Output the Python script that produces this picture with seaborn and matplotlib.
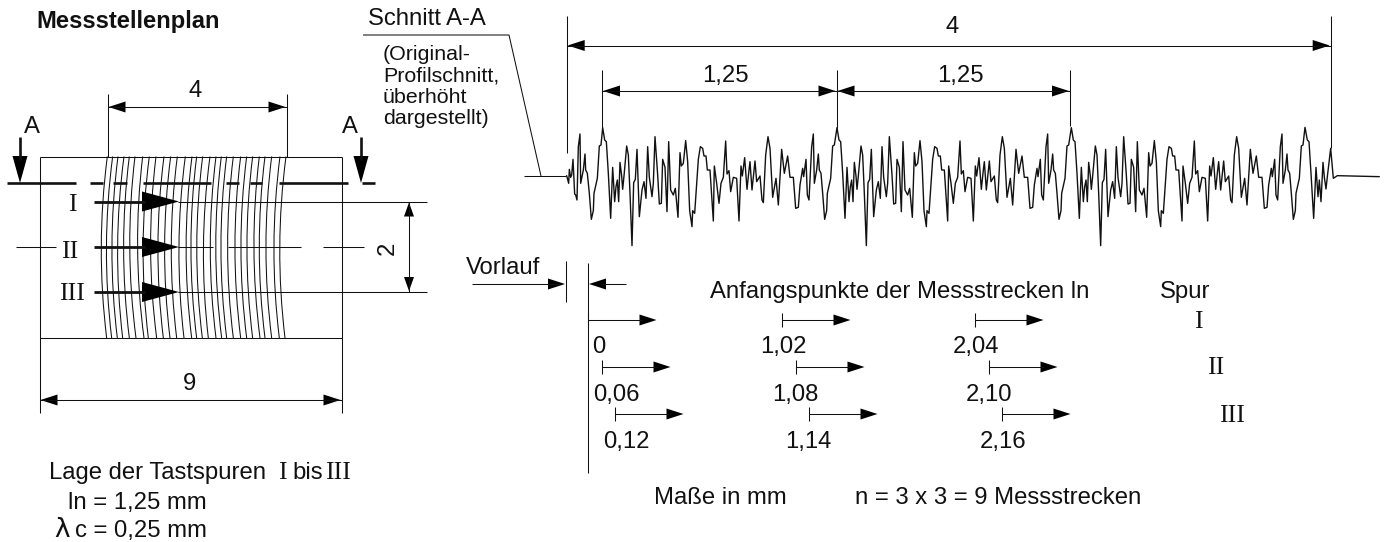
import numpy as np
import pandas as pd
import matplotlib
matplotlib.use("Agg")
import matplotlib.pyplot as plt
from matplotlib.path import Path
from matplotlib.patches import PathPatch
import seaborn as sns

sns.set_theme(style="white")
plt.rcParams['font.family'] = ['Liberation Sans', 'DejaVu Sans']

# ---- traced profile (trace units: 3 per pixel) ----
lead_x = [140,146,148,152,155,159,164,167,171,175,180,182,190,195,197,202,208,214,220,222,232,238,243]
lead_z = [257,280,238,262,255,208,312,315,330,170,132,280,240,192,240,250,310,388,362,310,265,168,165]
period_x = [248,254,259,265,272,278,284,288,292,296,300,305,308,312,320,325,330,336,341,346,351,358,366,372,378,383,388,396,400,405,413,418,424,428,435,441,446,452,460,466,474,480,484,490,497,503,509,516,518,524,535,541,548,552,558,562,570,580,583,590,597,603,610,617,621,627,632,640,650,657,663,667,674,681,687,690,696,705,710,720,726,730,737,744,750,758,768,775,785,793,803,810,820,827,835,840,848,851,858,862,867,875,880,883,890,895,898,903,908,914,920,922,932,938,943]
period_z = [113,150,155,250,385,232,335,290,270,335,217,258,298,258,168,195,310,467,278,268,178,380,300,275,325,170,262,320,280,140,255,342,340,208,232,365,155,300,315,295,382,188,228,220,152,215,362,410,362,370,208,170,175,198,198,240,240,393,228,280,340,280,262,153,252,242,305,262,265,393,228,258,203,298,240,215,300,213,275,258,330,338,195,140,175,322,265,345,178,250,198,262,262,355,352,285,235,260,208,315,330,170,132,280,240,192,240,250,310,388,362,310,265,168,165]
tail_x = [2355,2362,2367,2373,2381,2388,2394,2398,2403,2409,2413,2418,2422,2432,2440,2452,2578]
tail_z = [112,150,155,250,385,232,320,270,335,217,262,297,260,175,265,257,260]
period_step = 703

# ---- drawing values ----
groove_top = [322,338,354,372,388,405,428,448,468,492,512,532,556,576,590,608,630,648,664,680,700,722,740,758,778,795,815,840,858]
groove_bot = [320,335,352,368,388,408,432,445,470,490,510,530,552,575,590,607,625,648,665,680,700,722,740,758,780,795,815,838,855]
section_dashes = [(7,76),(90,103),(113,127),(143,211),(226,239),(250,262),(279,348),(362,375)]
track_names = ["I", "II", "III"]
track_y = [201.5, 247, 292]
track_label_x = [72, 70, 72]
track_label_y = [211, 258, 300]
start_rows = [320, 367, 414]
start_x = [[588,782,975],[602,796,989],[615,809,1002]]
start_labels = [["0","1,02","2,04"],["0,06","1,08","2,10"],["0,12","1,14","2,16"]]
start_label_x = [[592,760,953],[593,772,966],[603,785,980]]
start_label_y = [353, 401.5, 448]
spur_x = [1198, 1216, 1232]
spur_y = [328, 374, 422]

FS = 17.2
RS = 18.5
LW = 0.75

fig = plt.figure(figsize=(13.85, 5.42), dpi=100)
ax = fig.add_axes([0, 0, 1, 1])
ax.set_xlim(0, 1385)
ax.set_ylim(542, 0)
ax.axis("off")

def line(xs, ys, lw=LW, color="#111111"):
    ax.plot(xs, ys, color=color, lw=lw, solid_capstyle="butt")

def head(x, y, dx, dy=0, length=17, width=12):
    """triangle with its tip at (x, y), pointing along (dx, dy)"""
    bx, by = x - dx*length, y - dy*length
    px, py = -dy*width/2, dx*width/2
    ax.fill([x, bx+px, bx-px], [y, by+py, by-py], color="black", lw=0)

def dim_h(x0, x1, y):
    line([x0, x1], [y, y])
    head(x0+1, y, -1, 0, 17, 11)
    head(x1-1, y, 1, 0, 17, 11)

def txt(x, y, s, size=FS, ha="left", **kw):
    ax.text(x, y, s, fontsize=size, ha=ha, va="baseline", color="#111111", **kw)

def serif(x, y, s, size=RS, ha="left"):
    txt(x, y, s, size=size, ha=ha, family=["Liberation Serif"])

# ---- left: measuring plan ----
txt(36, 28, "Messstellenplan", size=17.1, fontweight="bold")
line([39.5, 341.5], [156.5, 156.5])
line([39.5, 341.5], [338, 338])
line([39.5, 39.5], [156.5, 413])
line([341.5, 341.5], [156.5, 413])
dim_h(39.5, 341.5, 400)
txt(189, 390, "9", ha="center")
line([107.5, 107.5], [94, 157])
line([286.5, 286.5], [94, 157])
dim_h(107.5, 286.5, 107)
txt(195, 97, "4", ha="center")

for t, b in zip(groove_top, groove_bot):
    x0, x1 = t/3, b/3
    xm = (x0+x1)/2 - 11.5
    ax.add_patch(PathPatch(Path([(x0,156.5),(xm,247),(x1,338)], [Path.MOVETO,Path.CURVE3,Path.CURVE3]),
                           fill=False, ec="#111111", lw=0.75))

for a, b in section_dashes:
    line([a, b], [183, 183], lw=1.9)
for x, y_lbl, lx in [(20, 133, 32), (361, 133, 350)]:
    line([x, x], [137, 160], lw=1.9)
    head(x, 183, 0, 1, 27, 15)
    txt(lx, y_lbl, "A", ha="center")

for name, y, lx, ly in zip(track_names, track_y, track_label_x, track_label_y):
    line([93.5, 145], [y, y], lw=2.0)
    head(179, y, 1, 0, 37, 20)
    serif(lx, ly, name, ha="center")
line([178, 427], [track_y[0]]*2)
line([178, 427], [track_y[2]]*2)
for a, b in [(16, 56), (178, 213), (228, 301), (323, 364)]:
    line([a, b], [track_y[1]]*2)
line([409, 409], [track_y[0], track_y[2]])
head(409, track_y[0]+1, 0, -1, 14, 10)
head(409, track_y[2]-1, 0, 1, 14, 10)
ax.text(388, 248, "2", fontsize=FS, rotation=90, ha="center", va="center", color="#111111")

txt(49, 479, "Lage der Tastspuren")
serif(278, 479, "I")
txt(292, 479, "bis")
serif(325, 479, "III")
txt(68, 509, "ln = 1,25 mm")
txt(54, 537, "λ", size=19, family=["DejaVu Sans"])
txt(75, 537, "c = 0,25 mm")

# ---- right: profile section ----
txt(368, 25, "Schnitt A-A")
line([363, 509, 541], [35, 35, 176])
line([524, 566], [176, 176])
for s, y in zip(["(Original-", "Profilschnitt,", "überhöht", "dargestellt)"], [60, 81, 103, 124]):
    txt(383, y, s, size=15.4)

xs = list(lead_x)
zs = list(lead_z)
for k in range(3):
    xs += [v + k*period_step for v in period_x]
    zs += list(period_z)
xs += tail_x
zs += tail_z
profile = pd.DataFrame({"x": 520 + np.array(xs)/3, "z": 90 + np.array(zs)/3})
sns.lineplot(data=profile, x="x", y="z", sort=False, estimator=None, color="#111111", lw=1.0, ax=ax, legend=False)
ax.set_xlim(0, 1385)
ax.set_ylim(542, 0)

line([566.7, 566.7], [16, 153])
line([1330.7, 1330.7], [16, 148])
dim_h(566.7, 1330.7, 45.5)
txt(952, 33, "4", ha="center")
for x, y1 in [(602, 128), (836.5, 128), (1070, 126)]:
    line([x, x], [70, y1])
dim_h(602, 836.5, 91)
dim_h(836.5, 1070, 91)
txt(725, 82, "1,25", ha="center")
txt(960, 82, "1,25", ha="center")

# ---- starting points ----
txt(466, 274, "Vorlauf")
line([472, 560], [284, 284])
head(565, 284, 1, 0, 17, 11)
line([566, 566], [261, 302])
line([588, 588], [263, 473])
line([600, 626], [284, 284])
head(589, 284, -1, 0, 17, 11)
txt(710, 298, "Anfangspunkte der Messstrecken ln")
txt(1160, 298, "Spur")
for row_y, row_x, row_lbl, row_lx, ly in zip(start_rows, start_x, start_labels, start_label_x, start_label_y):
    for x, lbl, lx in zip(row_x, row_lbl, row_lx):
        line([x, x], [row_y-7, row_y+7])
        line([x, x+55], [row_y, row_y])
        head(x+68.5, row_y, 1, 0, 17, 11)
        txt(lx, ly, lbl)
for name, x, y in zip(track_names, spur_x, spur_y):
    serif(x, y, name, ha="center")
txt(654, 504, "Maße in mm")
txt(855, 504, "n = 3 x 3 = 9 Messstrecken")

fig.savefig("out.png", dpi=100)
